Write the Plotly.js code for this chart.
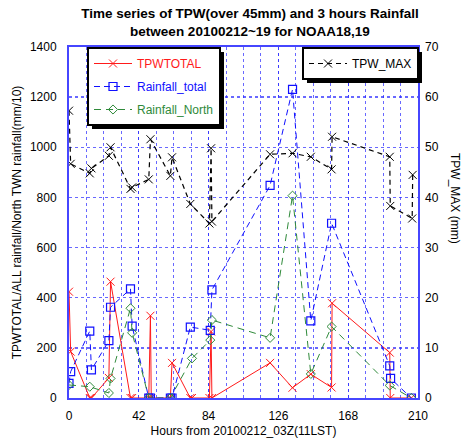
<!DOCTYPE html>
<html><head><meta charset="utf-8">
<script src="https://cdn.plot.ly/plotly-3.0.1.min.js"></script>
<style>html,body{margin:0;padding:0;background:#fff}#chart{width:462px;height:441px}</style>
</head><body><div id="chart"></div>
<script>
// ---- data ----
const tpwTotalHours = [0, 1, 12.5, 13.5, 24, 25, 37, 38, 48, 49, 49.5, 61, 62, 73, 74, 84.5, 85.5, 86, 121, 134.5, 145.5, 158, 158.3, 193, 193.3, 206];
const tpwTotalValues = [424, 185, 0, 0, 80, 464, 0, 0, 0, 328, 0, 0, 140, 0, 0, 0, 265, 0, 140, 41, 95, 42, 378, 181, 0, 0];

const rainTotalHours = [0, 1, 12.5, 13.5, 24, 25, 37, 38, 48, 49, 61, 62, 73, 85, 86, 121, 134.5, 145.5, 158, 193, 193.5, 206];
const rainTotalValues = [58, 105, 267, 112, 229, 362, 435, 287, 0, 0, 0, 0, 283, 270, 431, 848, 1231, 308, 697, 128, 78, 0];

const rainNorthHours = [0, 12.5, 24, 25, 37, 38, 48, 61, 74, 85, 86, 121, 134.5, 145.5, 158, 193, 206];
const rainNorthValues = [52, 45, 20, 78, 358, 260, 0, 0, 158, 231, 311, 240, 807, 96, 285, 50, 0];

const tpwMaxHours = [0, 1, 12.5, 13.5, 24, 25, 37, 38, 48, 49, 61, 62, 73, 84.5, 85.5, 86, 121, 134.5, 145.5, 158, 158.3, 193, 193.3, 206.5, 206.8];
const tpwMaxValues = [57.3, 46.7, 44.8, 45.8, 48.3, 50.0, 41.7, 42.0, 43.6, 51.6, 44.3, 48.0, 38.7, 34.8, 49.8, 35.2, 48.6, 48.8, 48.1, 45.6, 52.1, 48.1, 38.3, 35.8, 44.5];

const xTickVals = [0, 42, 84, 126, 168, 210];
const leftTickVals = [0, 200, 400, 600, 800, 1000, 1200, 1400];
const rightTickVals = [0, 10, 20, 30, 40, 50, 60, 70];

const seriesNames = ['TPWTOTAL', 'Rainfall_total', 'Rainfall_North', 'TPW_MAX'];
const titleLines = ['Time series of TPW(over 45mm) and 3 hours Rainfall', 'between 20100212~19 for NOAA18,19'];
const xTitle = 'Hours from 20100212_03Z(11LST)';
const yTitle = 'TPWTOTAL/ALL rainfall/North TWN rainfall(mm/10)';
const y2Title = 'TPW_MAX (mm)';

// ---- styles ----
const RED = '#ff1a1a', BLUE = '#1010ff', GREEN = '#2f8a3a', BLACK = '#000000';
const FONT = 'Liberation Sans, Arial, Helvetica, sans-serif';
const GRID = 'rgba(40,40,255,0.7)';
const FRAME = 'rgb(70,70,255)';

function colored(t, c) { return '<span style="color:' + c + '">' + t + '</span>'; }

const traces = [
  { x: tpwTotalHours, y: tpwTotalValues, name: colored(seriesNames[0], RED), mode: 'lines+markers',
    line: { color: RED, width: 1 }, marker: { symbol: 'x-thin-open', size: 8, color: RED, line: { color: RED, width: 1 } },
    legend: 'legend', legendgroup: 'a' },
  { x: rainTotalHours, y: rainTotalValues, name: colored(seriesNames[1], BLUE), mode: 'lines+markers',
    line: { color: BLUE, width: 1, dash: '6px,4px' }, marker: { symbol: 'square-open', size: 8, color: BLUE, line: { color: BLUE, width: 1.2 } },
    legend: 'legend', legendgroup: 'b' },
  { x: rainNorthHours, y: rainNorthValues, name: colored(seriesNames[2], GREEN), mode: 'lines+markers',
    line: { color: GREEN, width: 1, dash: '7px,5px' }, marker: { symbol: 'diamond-open', size: 7, color: GREEN, line: { color: GREEN, width: 1 } },
    legend: 'legend', legendgroup: 'c' },
  { x: tpwMaxHours, y: tpwMaxValues, name: seriesNames[3], mode: 'lines+markers', yaxis: 'y2',
    line: { color: BLACK, width: 1.2, dash: '5px,4px' }, marker: { symbol: 'x-thin-open', size: 8, color: BLACK, line: { color: BLACK, width: 1 } },
    legend: 'legend2' }
];

const L = 69, R = 418, T = 47, B = 398;
const pw = R - L, ph = B - T;
function px(x) { return (x - L) / pw; }
function py(y) { return (B - y) / ph; }

const layout = {
  width: 462, height: 441,
  margin: { l: L, r: 462 - R, t: T, b: 441 - B, pad: 0 },
  paper_bgcolor: '#fff', plot_bgcolor: '#fff',
  font: { family: FONT, size: 12, color: '#000' },
  showlegend: true,
  title: { text: titleLines.join('<br>'), font: { family: FONT, size: 13.5, weight: 'bold', color: '#000' },
    x: 250 / 462, xref: 'container', xanchor: 'center', y: 1 - 18 / 441, yref: 'container', yanchor: 'top' },
  xaxis: {
    range: [0, 210], tickvals: xTickVals, ticktext: xTickVals.map(String), ticks: '',
    showgrid: true, gridcolor: GRID, griddash: 'dot', gridwidth: 1,
    minor: { dtick: 10.5, tick0: 0, showgrid: true, gridcolor: GRID, griddash: 'dot', gridwidth: 1, ticks: '' },
    showline: true, linecolor: FRAME, linewidth: 2, mirror: true, zeroline: false,
    ticklabelstandoff: 6, tickfont: { size: 12 },
    title: { text: xTitle, font: { size: 12 }, standoff: 4 }
  },
  yaxis: {
    range: [0, 1400], tickvals: leftTickVals, ticks: '',
    showgrid: true, gridcolor: GRID, griddash: 'dot', gridwidth: 1.5,
    showline: true, linecolor: FRAME, linewidth: 2, mirror: true, zeroline: false,
    ticklabelstandoff: 8, tickfont: { size: 12 },
    title: { text: yTitle, font: { size: 12 }, standoff: 6 }
  },
  yaxis2: {
    range: [0, 70], tickvals: rightTickVals, overlaying: 'y', side: 'right', ticks: '',
    showgrid: false, zeroline: false, showline: false,
    ticklabelstandoff: 6, tickfont: { size: 12 }
  },
  legend: {
    x: px(87), y: 1, xanchor: 'left', yanchor: 'top',
    bgcolor: '#fff', bordercolor: '#000', borderwidth: 2,
    font: { size: 12, family: FONT }, tracegroupgap: 4, itemwidth: 38
  },
  legend2: {
    x: px(302), y: 1, xanchor: 'left', yanchor: 'top',
    bgcolor: '#fff', bordercolor: '#000', borderwidth: 2,
    font: { size: 12, family: FONT }, itemwidth: 38
  },
  shapes: [],
  annotations: [
    { text: y2Title, xref: 'paper', yref: 'paper', x: px(455), y: py(198), textangle: 90,
      showarrow: false, xanchor: 'center', yanchor: 'middle', font: { size: 12 } }
  ]
};

Plotly.newPlot('chart', traces, layout, { displayModeBar: false, staticPlot: true }).then(function (gd) {
  // add a drop shadow under each legend box, sized from the drawn legend
  const root = gd.getBoundingClientRect();
  const shapes = [];
  ['legend', 'legend2'].forEach(function (id) {
    const bg = gd.querySelector('g.' + id + ' rect.bg');
    if (!bg) return;
    const r = bg.getBoundingClientRect();
    const x0 = r.left - root.left + 4, x1 = r.right - root.left + 4;
    const y0 = r.top - root.top + 4, y1 = r.bottom - root.top + 4;
    shapes.push({ type: 'rect', xref: 'paper', yref: 'paper', layer: 'above', line: { width: 0 }, fillcolor: '#000',
      x0: px(x0), x1: px(x1), y0: py(y1), y1: py(y0) });
  });
  return Plotly.relayout(gd, { shapes: shapes });
});
</script>
</body></html>
